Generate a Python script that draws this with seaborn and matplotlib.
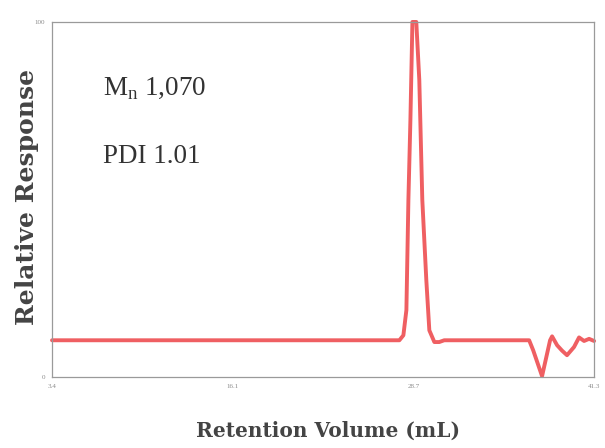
import seaborn as sns
import pandas as pd
import matplotlib.pyplot as plt

# retention volume (mL) and relative response
volume = [3.5, 27.72, 28.0, 28.21, 28.35, 28.49, 28.63, 28.9, 29.11, 29.32, 29.6,
          29.81, 30.16, 30.5, 30.85, 36.77, 37.05, 37.67, 38.23, 38.37, 38.72,
          39.06, 39.41, 39.9, 40.25, 40.6, 40.95, 41.3]
response = [10.4, 10.4, 11.8, 18.9, 49.9, 72.4, 100.0, 100.0, 83.7, 49.9, 27.3,
            13.2, 9.9, 9.9, 10.4, 10.4, 7.6, 0.3, 10.4, 11.5, 9.0,
            7.5, 6.2, 8.5, 11.2, 10.2, 10.8, 10.2]
x_ticks = [3.5, 16.1, 28.7, 41.3]
x_tick_labels = ["3.4", "16.1", "28.7", "41.3"]
y_ticks = [0, 100]
y_tick_labels = ["0", "100"]

df = pd.DataFrame({"volume": volume, "response": response})

sns.set_style("white")
plt.rcParams["font.family"] = ["Liberation Serif", "DejaVu Serif"]

fig = plt.figure(figsize=(6.05, 4.48), dpi=100)
ax = fig.add_axes([0.086, 0.158, 0.896, 0.793])
sns.lineplot(data=df, x="volume", y="response", sort=False, color="#ef5f62",
             linewidth=2.8, ax=ax, clip_on=False)

ax.set_xlim(3.5, 41.3)
ax.set_ylim(0, 100)
ax.set_xticks(x_ticks)
ax.set_xticklabels(x_tick_labels)
ax.set_yticks(y_ticks)
ax.set_yticklabels(y_tick_labels)
ax.tick_params(axis="both", direction="inout", length=6, width=0.8,
               colors="#8a8a8a", labelsize=5, pad=2)
for s in ax.spines.values():
    s.set_color("#9a9a9a")
    s.set_linewidth(0.9)

ax.set_xlabel("Retention Volume (mL)", family="DejaVu Serif", size=14.5,
              weight="bold", color="#444444")
ax.set_ylabel("Relative Response", family="DejaVu Serif", size=18,
              weight="bold", color="#444444")
ax.xaxis.set_label_coords(0.51, -0.122)
ax.yaxis.set_label_coords(-0.024, 0.507)

ax.text(7.05, 81.4, r"M$_\mathregular{n}$ 1,070", fontsize=19.5, color="#333333", va="center")
ax.text(7.05, 62.0, "PDI 1.01", fontsize=19.5, color="#333333", va="center")

fig.savefig("out.png", dpi=100)
